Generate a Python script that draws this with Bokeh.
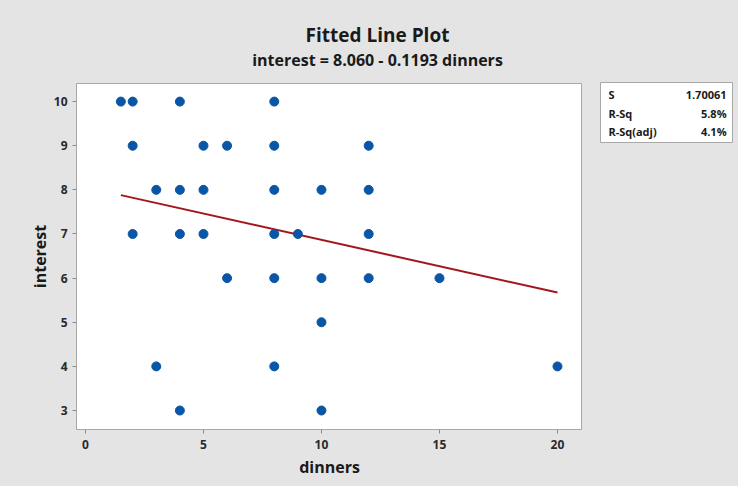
from bokeh.plotting import figure
from bokeh.models import Range1d, FixedTicker, Spacer
from bokeh.layouts import column, row
from bokeh.core.properties import value
from bokeh.embed import file_html
from bokeh.resources import INLINE

# data
dinners = [1.5, 2, 4, 8,
           2, 5, 6, 8, 12,
           3, 4, 5, 8, 10, 12,
           2, 4, 5, 8, 9, 12,
           6, 8, 10, 12, 15,
           10,
           3, 8, 20,
           4, 10]
interest = [10, 10, 10, 10,
            9, 9, 9, 9, 9,
            8, 8, 8, 8, 8, 8,
            7, 7, 7, 7, 7, 7,
            6, 6, 6, 6, 6,
            5,
            4, 4, 4,
            3, 3]
intercept = 8.060
slope = -0.1193
x_ticks = [0, 5, 10, 15, 20]
y_ticks = [3, 4, 5, 6, 7, 8, 9, 10]
title_text = "Fitted Line Plot"
subtitle_text = "interest = 8.060 - 0.1193 dinners"
stats_names = ["S", "R-Sq", "R-Sq(adj)"]
stats_values = ["1.70061", "5.8%", "4.1%"]

fit_x = [min(dinners), max(dinners)]
fit_y = [intercept + slope * x for x in fit_x]

FONT = "Open Sans"
BG = "#e4e4e4"
FRAME = "#a8a8a8"
TXT = "#1a1a1a"

W, H = 738, 486
HEAD_H = 75
MAIN_W = 582
ROW_H = H - HEAD_H
STATS_H = 68
TITLE_X = 377

# ---- header with title and regression equation
head = figure(width=W, height=HEAD_H, output_backend="svg", toolbar_location=None,
              x_range=Range1d(0, W), y_range=Range1d(HEAD_H, 0),
              x_axis_location=None, y_axis_location=None,
              min_border=0)
head.grid.visible = False
head.outline_line_color = None
head.background_fill_color = BG
head.border_fill_color = BG
head.text(x=[TITLE_X], y=[34], text=[title_text], text_font=value(FONT),
          text_font_size="19px", text_font_style="bold", text_color=TXT,
          text_align="center", text_baseline="middle")
head.text(x=[TITLE_X], y=[59], text=[subtitle_text], text_font=value(FONT),
          text_font_size="16px", text_font_style="bold", text_color=TXT,
          text_align="center", text_baseline="middle")

# ---- main scatter plot
p = figure(width=MAIN_W, height=ROW_H, output_backend="svg", toolbar_location=None,
           x_range=Range1d(-0.38, 21.06), y_range=Range1d(2.57, 10.41),
           min_border_left=76, min_border_right=0, min_border_top=8,
           min_border_bottom=57)
p.background_fill_color = "white"
p.border_fill_color = BG
p.outline_line_color = FRAME
p.grid.visible = False

for ax in (p.xaxis[0], p.yaxis[0]):
    ax.axis_line_color = FRAME
    ax.major_tick_line_color = "#8a8a8a"
    ax.major_tick_out = 4
    ax.major_tick_in = 0
    ax.minor_tick_line_color = None
    ax.major_label_text_font = FONT
    ax.major_label_text_font_size = "12px"
    ax.major_label_text_font_style = "bold"
    ax.major_label_text_color = "#2a2a2a"
    ax.axis_label_text_font = FONT
    ax.axis_label_text_font_size = "16px"
    ax.axis_label_text_font_style = "bold"
    ax.axis_label_text_color = TXT
p.xaxis.ticker = FixedTicker(ticks=x_ticks)
p.yaxis.ticker = FixedTicker(ticks=y_ticks)
p.xaxis.major_label_standoff = 6
p.yaxis.major_label_standoff = 5
p.xaxis.axis_label = "dinners"
p.yaxis.axis_label = "interest"
p.xaxis.axis_label_standoff = 4
p.yaxis.axis_label_standoff = 0

p.line(fit_x, fit_y, line_color="#a3161b", line_width=2)
p.scatter(dinners, interest, size=9, fill_color="#0a56a6", line_color="#0a56a6")

# ---- summary statistics box
s = figure(width=W - MAIN_W, height=STATS_H, output_backend="svg", toolbar_location=None,
           x_range=Range1d(0, 1), y_range=Range1d(3.15, -0.15),
           x_axis_location=None, y_axis_location=None,
           min_border_left=18, min_border_right=6, min_border_top=7,
           min_border_bottom=0)
s.grid.visible = False
s.background_fill_color = "white"
s.border_fill_color = BG
s.outline_line_color = FRAME
rows_y = [i + 0.5 for i in range(len(stats_names))]
s.text(x=[0.06] * len(stats_names), y=rows_y, text=stats_names, text_font=value(FONT),
       text_font_size="11px", text_font_style="bold", text_color=TXT,
       text_align="left", text_baseline="middle")
s.text(x=[0.955] * len(stats_values), y=rows_y, text=stats_values, text_font=value(FONT),
       text_font_size="11px", text_font_style="bold", text_color=TXT,
       text_align="right", text_baseline="middle")

bg_style = {"background-color": BG}
side = column(s, Spacer(width=W - MAIN_W, height=ROW_H - STATS_H, styles=bg_style),
              spacing=0, styles=bg_style)
layout = column(head, row(p, side, spacing=0, styles=bg_style), spacing=0,
                styles=bg_style)
open("out.html", "w").write(file_html(layout, INLINE))
